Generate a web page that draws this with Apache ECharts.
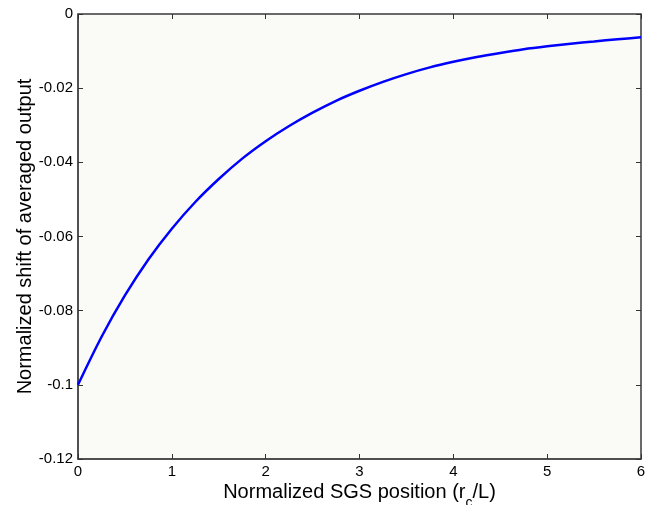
<!DOCTYPE html>
<html>
<head>
<meta charset="utf-8">
<script src="https://cdn.jsdelivr.net/npm/echarts@6/dist/echarts.min.js"></script>
<style>html,body{margin:0;padding:0;background:#fff}#c{width:660px;height:505px}</style>
</head>
<body>
<div id="c"></div>
<script>
var xValues = [0, 0.25, 0.5, 0.75, 1, 1.25, 1.5, 1.75, 2, 2.25, 2.5, 2.75, 3, 3.25, 3.5, 3.75, 4, 4.25, 4.5, 4.75, 5, 5.25, 5.5, 5.75, 6];
var shiftValues = [-0.1000, -0.0871, -0.0759, -0.0662, -0.0579, -0.0507, -0.0445, -0.0390, -0.0343, -0.0302, -0.0266, -0.0234, -0.0207, -0.0183, -0.0162, -0.0144, -0.0129, -0.0116, -0.0105, -0.0095, -0.0087, -0.0080, -0.0074, -0.0068, -0.0063];
var xTicks = [0, 1, 2, 3, 4, 5, 6];
var yTickLabels = ['-0.12', '-0.1', '-0.08', '-0.06', '-0.04', '-0.02', '0'];

var points = xValues.map(function (x, i) { return [x, shiftValues[i]]; });
var font = 'Liberation Sans, Arial, Helvetica, sans-serif';
var axisCol = '#333333';

var chart = echarts.init(document.getElementById('c'), null, {renderer: 'canvas'});
chart.setOption({
  backgroundColor: '#ffffff',
  animation: false,
  grid: {left: 78, right: 19, top: 14, bottom: 46, outerBoundsMode: 'none', containLabel: false,
    show: true, backgroundColor: '#fafaf6', borderColor: '#555555', borderWidth: 1},
  xAxis: [{
    type: 'value', min: 0, max: 6, interval: 1, position: 'bottom',
    axisLine: {show: true, onZero: false, lineStyle: {color: axisCol, width: 1.5}},
    axisTick: {show: true, inside: true, length: 5, lineStyle: {color: axisCol}},
    axisLabel: {color: '#000', fontFamily: font, fontSize: 15, margin: 5,
      formatter: function (v) { return xTicks.indexOf(v) >= 0 ? String(v) : ''; }},
    splitLine: {show: false},
    name: '{a|Normalized SGS position (r}{s|c}{a|/L)}',
    nameLocation: 'middle', nameGap: 23, nameMoveOverlap: false,
    nameTextStyle: {color: '#000', fontFamily: font, fontSize: 20,
      rich: {
        a: {fontSize: 20, lineHeight: 24, verticalAlign: 'top', fontFamily: font, color: '#000'},
        s: {fontSize: 14, lineHeight: 14, padding: [14, 0, 0, 0], verticalAlign: 'top', fontFamily: font, color: '#000'}
      }}
  }, {
    type: 'value', min: 0, max: 6, interval: 1, position: 'top',
    axisLine: {show: true, onZero: false, lineStyle: {color: '#555555', width: 1.5}},
    axisTick: {show: true, inside: true, length: 5, lineStyle: {color: axisCol}},
    axisLabel: {show: false}, splitLine: {show: false}
  }],
  yAxis: [{
    type: 'value', min: -0.12, max: 0, interval: 0.02, position: 'left',
    axisLine: {show: true, onZero: false, lineStyle: {color: axisCol, width: 1.5}},
    axisTick: {show: true, inside: true, length: 5, lineStyle: {color: axisCol}},
    axisLabel: {color: '#000', fontFamily: font, fontSize: 15, margin: 5,
      formatter: function (v) { var i = Math.round((v + 0.12) / 0.02); return yTickLabels[i] || ''; }},
    splitLine: {show: false},
    name: 'Normalized shift of averaged output',
    nameLocation: 'middle', nameGap: 43, nameRotate: 90, nameMoveOverlap: false,
    nameTextStyle: {color: '#000', fontFamily: font, fontSize: 20}
  }, {
    type: 'value', min: -0.12, max: 0, interval: 0.02, position: 'right',
    axisLine: {show: true, onZero: false, lineStyle: {color: '#555555', width: 1.5}},
    axisTick: {show: true, inside: true, length: 5, lineStyle: {color: axisCol}},
    axisLabel: {show: false}, splitLine: {show: false}
  }],
  series: [{
    type: 'line', data: points, xAxisIndex: 0, yAxisIndex: 0,
    smooth: 0.3, showSymbol: false, symbol: 'none',
    lineStyle: {color: '#0000ff', width: 2.5}
  }]
});
</script>
</body>
</html>
